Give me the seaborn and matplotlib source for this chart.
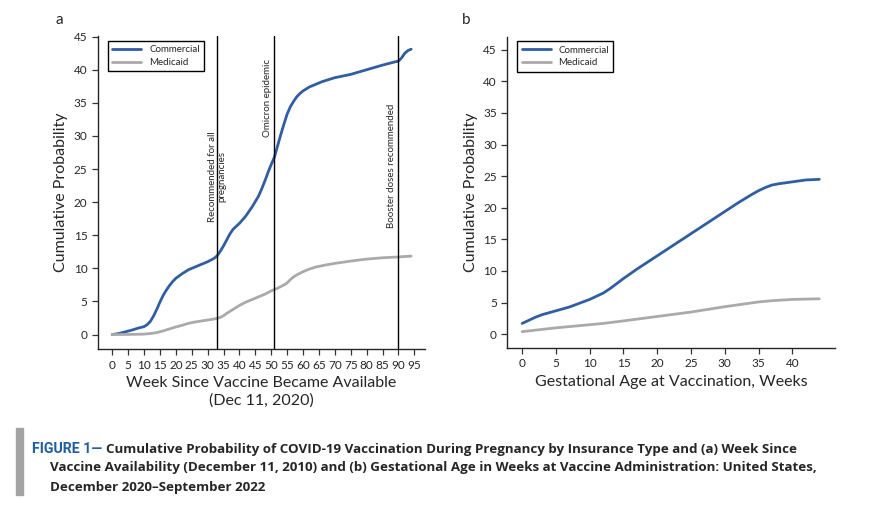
import numpy as np
import pandas as pd
import seaborn as sns
import matplotlib.pyplot as plt

# panel a: week since vaccine became available
week_com = [0, 2, 4, 6, 8, 10, 11, 12, 13, 14, 15, 16, 17, 18, 19, 20, 22, 24, 26,
            28, 30, 32, 33, 34, 35, 36, 37, 38, 40, 42, 44, 46, 47, 48, 49, 50, 51,
            52, 53, 54, 55, 56, 57, 58, 59, 60, 62, 64, 66, 68, 70, 75, 80, 85, 89,
            90, 91, 92, 93, 94]
prob_com = [0, 0.15, 0.4, 0.65, 0.95, 1.2, 1.5, 2.0, 2.8, 3.8, 4.9, 5.9, 6.7, 7.4,
            8.0, 8.5, 9.2, 9.8, 10.2, 10.6, 11.0, 11.5, 11.9, 12.6, 13.4, 14.3,
            15.2, 15.9, 16.8, 17.9, 19.3, 20.9, 22.0, 23.2, 24.5, 25.7, 26.8, 28.5,
            30.2, 31.8, 33.3, 34.4, 35.2, 35.9, 36.4, 36.8, 37.4, 37.8, 38.2, 38.5,
            38.8, 39.3, 40.0, 40.7, 41.2, 41.3, 41.8, 42.5, 42.9, 43.1]
week_med = [0, 5, 9.6, 12, 14, 16, 18, 20, 22, 24, 26, 28, 30, 32, 33, 34, 35, 36,
            38, 40, 42, 44, 46, 48, 50, 52, 54, 55, 56, 57, 58, 60, 62, 64, 67, 70,
            75, 80, 85, 89, 94]
prob_med = [0, 0.02, 0.06, 0.15, 0.3, 0.55, 0.85, 1.15, 1.4, 1.7, 1.9, 2.05, 2.2,
            2.35, 2.45, 2.6, 2.85, 3.2, 3.8, 4.4, 4.9, 5.3, 5.7, 6.1, 6.6, 7.0, 7.5,
            7.8, 8.3, 8.7, 9.0, 9.5, 9.9, 10.2, 10.5, 10.75, 11.1, 11.4, 11.6, 11.7,
            11.85]

events = [33, 51, 90]
event_labels = ["Recommended for all\npregnancies", "Omicron epidemic",
                "Booster doses recommended"]

# panel b: gestational age at vaccination
gest_c = [0, 1, 2, 3, 4, 5, 6, 7, 8, 9, 10, 11, 12, 13, 14, 15, 17, 20, 25, 30, 32,
          34, 35, 36, 37, 38, 40, 42, 44]
gest_com = [1.7, 2.2, 2.7, 3.1, 3.4, 3.7, 4.0, 4.3, 4.7, 5.1, 5.5, 6.0, 6.5, 7.2,
            8.0, 8.8, 10.3, 12.4, 15.9, 19.4, 20.8, 22.1, 22.7, 23.2, 23.6, 23.8,
            24.1, 24.4, 24.5]
gest_m = [0, 5, 10, 12, 15, 20, 25, 30, 33, 35, 37, 40, 42, 44]
gest_med = [0.4, 1.0, 1.5, 1.7, 2.1, 2.8, 3.5, 4.35, 4.8, 5.1, 5.3, 5.5, 5.55, 5.6]

colors = {"Commercial": "#2f5da6", "Medicaid": "#aaaaaa"}


def longForm(xs_com, ys_com, xs_med, ys_med, xname):
    a = pd.DataFrame({xname: xs_com, "prob": ys_com, "insurance": "Commercial"})
    b = pd.DataFrame({xname: xs_med, "prob": ys_med, "insurance": "Medicaid"})
    return pd.concat([a, b], ignore_index=True)


dfA = longForm(week_com, prob_com, week_med, prob_med, "week")
dfB = longForm(gest_c, gest_com, gest_m, gest_med, "gest")

sns.set_style("ticks")
plt.rcParams["font.family"] = ["Lato", "DejaVu Sans"]
plt.rcParams["axes.linewidth"] = 1.0

fig = plt.figure(figsize=(8.9, 5.29), dpi=100)
axA = fig.add_axes([0.110, 0.340, 0.367, 0.592])
axB = fig.add_axes([0.570, 0.342, 0.368, 0.589])


def styleAxis(ax, xlabel):
    sns.despine(ax=ax)
    ax.tick_params(labelsize=8.5, length=4, width=0.9, color="#333333")
    ax.set_ylabel("Cumulative Probability", fontsize=11.5)
    ax.set_xlabel(xlabel, fontsize=11.5, linespacing=1.3)
    leg = ax.legend(loc="upper left", fontsize=7, frameon=True, fancybox=False,
                    handlelength=3.0, borderpad=0.45, labelspacing=0.4,
                    edgecolor="black", borderaxespad=0,
                    bbox_to_anchor=(0.03, 0.985))
    leg.get_frame().set_linewidth(1.0)
    leg.get_frame().set_alpha(1)


sns.lineplot(data=dfA, x="week", y="prob", hue="insurance", palette=colors,
             linewidth=2.0, ax=axA, sort=True)
axA.set_xlim(-4.5, 98.2)
axA.set_ylim(-2.2, 45.1)
axA.set_xticks(np.arange(0, 100, 5))
axA.set_yticks(np.arange(0, 50, 5))
for w in events:
    axA.axvline(w, color="black", lw=1.0)
axA.text(events[0], 23.8, event_labels[0], rotation=90, fontsize=7,
         ha="center", va="center", multialignment="center", linespacing=1.15)
axA.text(events[1] - 0.7, 35.7, event_labels[1], rotation=90, fontsize=7,
         ha="right", va="center")
axA.text(events[2] - 0.7, 25.5, event_labels[2], rotation=90, fontsize=7,
         ha="right", va="center")
styleAxis(axA, "Week Since Vaccine Became Available\n(Dec 11, 2020)")

sns.lineplot(data=dfB, x="gest", y="prob", hue="insurance", palette=colors,
             linewidth=2.0, ax=axB, sort=True)
axB.set_xlim(-2.2, 46.3)
axB.set_ylim(-2.2, 47.1)
axB.set_xticks(np.arange(0, 45, 5))
axB.set_yticks(np.arange(0, 50, 5))
styleAxis(axB, "Gestational Age at Vaccination, Weeks")

fig.text(55 / 890, 1 - 20 / 529, "a", fontsize=11, va="center")
fig.text(462 / 890, 1 - 20 / 529, "b", fontsize=11, va="center")

# caption
fig.patches.append(plt.Rectangle((16 / 890, 1 - 495 / 529), 7 / 890, 67 / 529,
                                 transform=fig.transFigure, color="#a3a3a3"))
fig.text(32 / 890, 1 - 449 / 529, "FIGURE 1\u2014", fontsize=10.2, weight="bold",
         color="#1f5fa8", va="center", family=["Roboto", "DejaVu Sans"])
cap = ["Cumulative Probability of COVID-19 Vaccination During Pregnancy by Insurance Type and (a) Week Since",
       "Vaccine Availability (December 11, 2010) and (b) Gestational Age in Weeks at Vaccine Administration: United States,",
       "December 2020\u2013September 2022"]
capFont = ["Open Sans", "DejaVu Sans"]
fig.text(106 / 890, 1 - 449 / 529, cap[0], fontsize=9.6, weight="bold",
         va="center", family=capFont)
fig.text(50 / 890, 1 - 468 / 529, cap[1], fontsize=9.6, weight="bold",
         va="center", family=capFont)
fig.text(50 / 890, 1 - 487 / 529, cap[2], fontsize=9.6, weight="bold",
         va="center", family=capFont)

fig.savefig("out.png", dpi=100)
